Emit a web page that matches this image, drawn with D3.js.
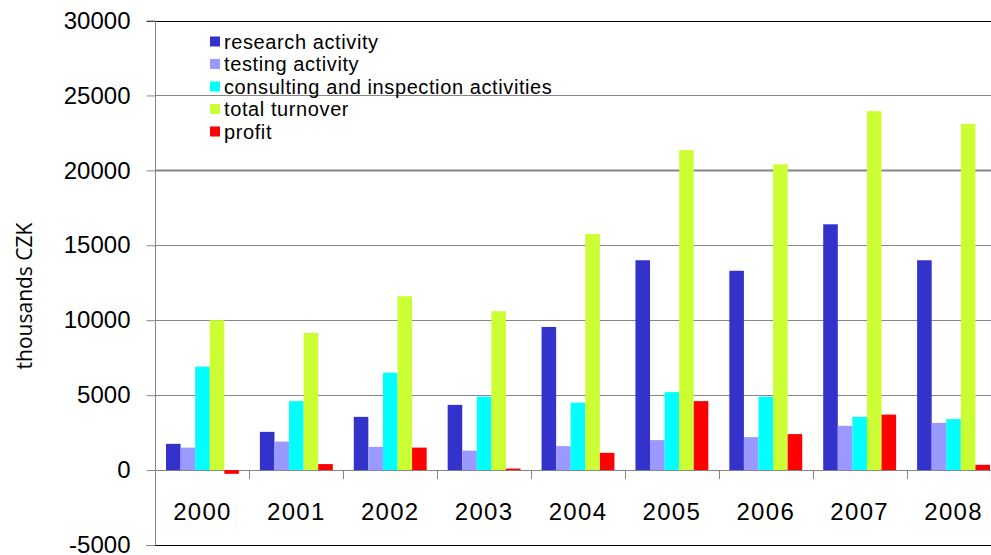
<!DOCTYPE html>
<html>
<head>
<meta charset="utf-8">
<script src="https://cdn.jsdelivr.net/npm/d3@7"></script>
<style>
  html, body { margin: 0; padding: 0; background: #fff; }
  svg text { font-family: "Liberation Sans", Arial, sans-serif; }
</style>
</head>
<body>
<div id="chart"></div>
<script>
// ---- data ----
const years = ["2000", "2001", "2002", "2003", "2004", "2005", "2006", "2007", "2008"];
const seriesNames = ["research activity", "testing activity", "consulting and inspection activities", "total turnover", "profit"];
const research   = [1750, 2550, 3550, 4350, 9550, 14000, 13300, 16400, 14000];
const testing    = [1500, 1900, 1550, 1300, 1600, 2000, 2200, 2950, 3150];
const consulting = [6900, 4600, 6500, 4900, 4500, 5200, 4900, 3550, 3400];
const turnover   = [10000, 9150, 11600, 10600, 15750, 21350, 20400, 23950, 23100];
const profit     = [-250, 400, 1500, 100, 1150, 4600, 2400, 3700, 350];
const yTicks = [-5000, 0, 5000, 10000, 15000, 20000, 25000, 30000];
const colors = ["#3333cc", "#9999ff", "#00ffff", "#ccff33", "#ff0000"];

const allSeries = [research, testing, consulting, turnover, profit];

// ---- layout ----
const width = 991, height = 555;
const plotLeft = 155.5, plotTop = 20.5, plotBottom = 545, plotRight = 1000.5;

const svg = d3.select("#chart").append("svg")
  .attr("width", width)
  .attr("height", height);

const y = d3.scaleLinear().domain([-5000, 30000]).range([plotBottom, plotTop]);
const x0 = d3.scaleBand().domain(years).range([plotLeft, plotRight]);
const x1 = d3.scaleBand().domain(seriesNames).range([0, x0.bandwidth()]).paddingOuter(0.72);

// gridlines
svg.append("g")
  .selectAll("line")
  .data(yTicks.filter(t => t > -5000 && t < 30000))
  .join("line")
  .attr("x1", plotLeft).attr("x2", width)
  .attr("y1", d => Math.round(y(d)) + 0.5).attr("y2", d => Math.round(y(d)) + 0.5)
  .attr("stroke", "#868686")
  .attr("stroke-width", d => d === 20000 ? 2 : 1);

// top and bottom border lines
[30000, -5000].forEach(v => {
  svg.append("line")
    .attr("x1", plotLeft - 9).attr("x2", width)
    .attr("y1", Math.round(y(v)) + 0.5).attr("y2", Math.round(y(v)) + 0.5)
    .attr("stroke", "#000");
});

// bars
const groups = svg.append("g")
  .selectAll("g")
  .data(years)
  .join("g")
  .attr("transform", d => `translate(${x0(d)},0)`);

groups.selectAll("rect")
  .data((d, i) => seriesNames.map((s, k) => ({ key: s, k: k, value: allSeries[k][i] })))
  .join("rect")
  .attr("x", d => x1(d.key))
  .attr("width", x1.bandwidth())
  .attr("y", d => y(Math.max(0, d.value)))
  .attr("height", d => Math.abs(y(d.value) - y(0)))
  .attr("fill", d => colors[d.k]);

// y axis (plain hyphen for negatives, like the original)
const yAxis = d3.axisLeft(y).tickValues(yTicks).tickSize(9).tickPadding(16).tickFormat(d => String(d));
const ya = svg.append("g")
  .attr("transform", `translate(${plotLeft},0)`)
  .call(yAxis);
ya.select(".domain").attr("stroke", "#868686").attr("d", `M0,${plotTop}V${plotBottom}`);
ya.selectAll(".tick line").attr("stroke", "#868686");
ya.selectAll(".tick text")
  .attr("fill", "#000")
  .style("font-size", "24px")
  .style("font-family", "'Liberation Sans', Arial, sans-serif");

// category tick marks on zero line
svg.append("g")
  .selectAll("line")
  .data(years.slice(1))
  .join("line")
  .attr("x1", d => Math.round(x0(d)) + 0.5).attr("x2", d => Math.round(x0(d)) + 0.5)
  .attr("y1", y(0)).attr("y2", y(0) + 9)
  .attr("stroke", "#868686");

// year labels
svg.append("g")
  .selectAll("text")
  .data(years)
  .join("text")
  .attr("x", d => x0(d) + x0.bandwidth() / 2)
  .attr("y", 520)
  .attr("text-anchor", "middle")
  .style("font-size", "24px")
  .style("letter-spacing", "1.3px")
  .text(d => d);

// y axis title
svg.append("text")
  .attr("transform", "translate(32,296) rotate(-90)")
  .attr("text-anchor", "middle")
  .style("font-family", "'Open Sans', sans-serif")
  .style("font-size", "21px")
  .text("thousands CZK");

// legend
const legend = svg.append("g")
  .selectAll("g")
  .data(seriesNames)
  .join("g")
  .attr("transform", (d, i) => `translate(210,${41.5 + i * 22.5})`);

legend.append("rect")
  .attr("x", 0).attr("y", -5)
  .attr("width", 10).attr("height", 10)
  .attr("fill", (d, i) => colors[i]);

legend.append("text")
  .attr("x", 14)
  .attr("y", 7)
  .style("font-size", "20px")
  .style("letter-spacing", "0.6px")
  .text(d => d);
</script>
</body>
</html>
